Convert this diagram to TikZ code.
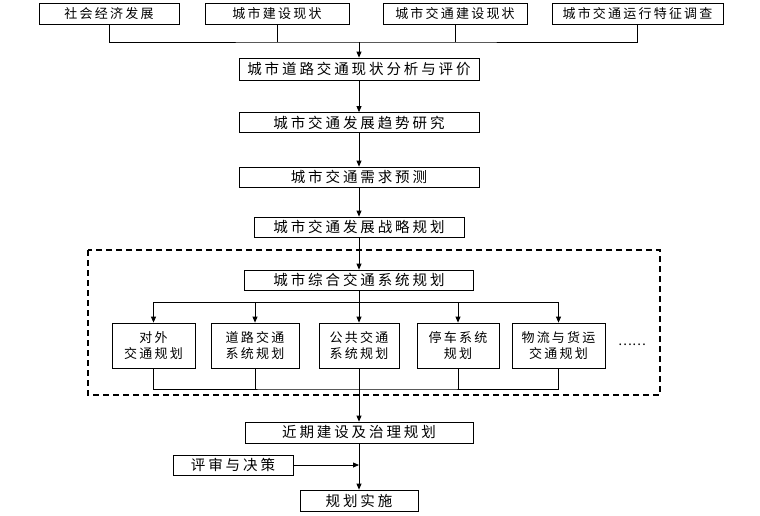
\documentclass[tikz,border=0pt]{standalone}
\usepackage{fontspec}
\setmainfont{Noto Sans CJK SC}
\newfontfamily\bigcjk[LetterSpace=20]{Noto Sans CJK SC}
\newfontfamily\smallcjk[LetterSpace=17]{Noto Sans CJK SC}
\usetikzlibrary{arrows.meta,calc,positioning}

\begin{document}
\begin{tikzpicture}[x=1pt,y=-1pt,
	box/.style={draw,line width=0.8pt,inner sep=0pt,
		font=\bigcjk\fontsize{14.5}{16}\selectfont},
	topbox/.style={box,minimum height=21pt,
		font=\smallcjk\fontsize{13}{15}\selectfont},
	subbox/.style={box,minimum height=45pt,align=center,
		font=\smallcjk\fontsize{13}{16.5}\selectfont},
	arr/.style={line width=0.8pt,-{Triangle[length=6pt,width=5pt]}},
	lin/.style={line width=0.8pt},
	frame/.style={line width=1.3pt,dash pattern=on 6pt off 4pt}]
	\useasboundingbox (0,0) rectangle (760,515);
	% input row
	\node[topbox,minimum width=140pt] (soc) at (109,13.5) {社会经济发展};
	\node[topbox,minimum width=144pt] (cjs) at (277,13.5) {城市建设现状};
	\node[topbox,minimum width=144pt] (jtjs) at (455,13.5) {城市交通建设现状};
	\node[topbox,minimum width=171pt] (jtyx) at (637.5,13.5) {城市交通运行特征调查};
	\coordinate (top) at (359,42);
	% main column
	\node[box,minimum width=240pt,minimum height=22pt] (xz) at (359,69) {城市道路交通现状分析与评价};
	\node[box,minimum width=240pt,minimum height=20pt] (qs) at (359,122.5) {城市交通发展趋势研究};
	\node[box,minimum width=240pt,minimum height=20pt] (xq) at (359,177) {城市交通需求预测};
	\node[box,minimum width=210pt,minimum height=20pt] (zl) at (359,227) {城市交通发展战略规划};
	\node[box,minimum width=229pt,minimum height=20pt] (zh) at (359,280) {城市综合交通系统规划};
	% sub plans
	\node[subbox,minimum width=83pt] (dw) at (153.5,345.5) {对外\\交通规划};
	\node[subbox,minimum width=88pt] (dl) at (255,345.5) {道路交通\\系统规划};
	\node[subbox,minimum width=80pt] (gg) at (359,345.5) {公共交通\\系统规划};
	\node[subbox,minimum width=82pt] (tc) at (458,345.5) {停车系统\\规划};
	\node[subbox,minimum width=93pt] (wl) at (558.5,345.5) {物流与货运\\交通规划};
	\node[font=\fontsize{13}{15}\selectfont] (etc) at (632,345) {……};
	\coordinate (fen) at (359,302);
	\coordinate (he) at (359,389);
	\draw[frame] (88,250) rectangle (660,395);
	% output
	\node[box,minimum width=228pt,minimum height=21pt] (jq) at (359,432.5) {近期建设及治理规划};
	\node[box,minimum width=120pt,minimum height=20pt] (ps) at (233,465) {评审与决策};
	\node[box,minimum width=118pt,minimum height=21pt] (ss) at (359,500.5) {规划实施};

	\draw[lin] (soc.south) |- (top) -| (jtyx.south);
	\draw[lin] (cjs.south) -- (cjs.south |- top);
	\draw[lin] (jtjs.south) -- (jtjs.south |- top);
	\draw[arr] (top) -- (xz.north);
	\draw[arr] (xz) -- (qs);
	\draw[arr] (qs) -- (xq);
	\draw[arr] (xq) -- (zl);
	\draw[arr] (zl) -- (zh);
	\draw[lin] (zh.south) -- (fen);
	\draw[lin] (dw.north |- fen) -- (wl.north |- fen);
	\foreach \n in {dw,dl,gg,tc,wl}
		\draw[arr] (\n.north |- fen) -- (\n.north);
	\draw[lin] (dw.south) |- (he) -| (wl.south);
	\foreach \n in {dl,tc}
		\draw[lin] (\n.south) -- (\n.south |- he);
	\draw[lin] (gg.south) -- (he);
	\draw[arr] (he) -- (jq.north);
	\draw[arr] (jq) -- (ss);
	\draw[arr] (ps.east) -- (ps.east -| ss.north);
\end{tikzpicture}
\end{document}
